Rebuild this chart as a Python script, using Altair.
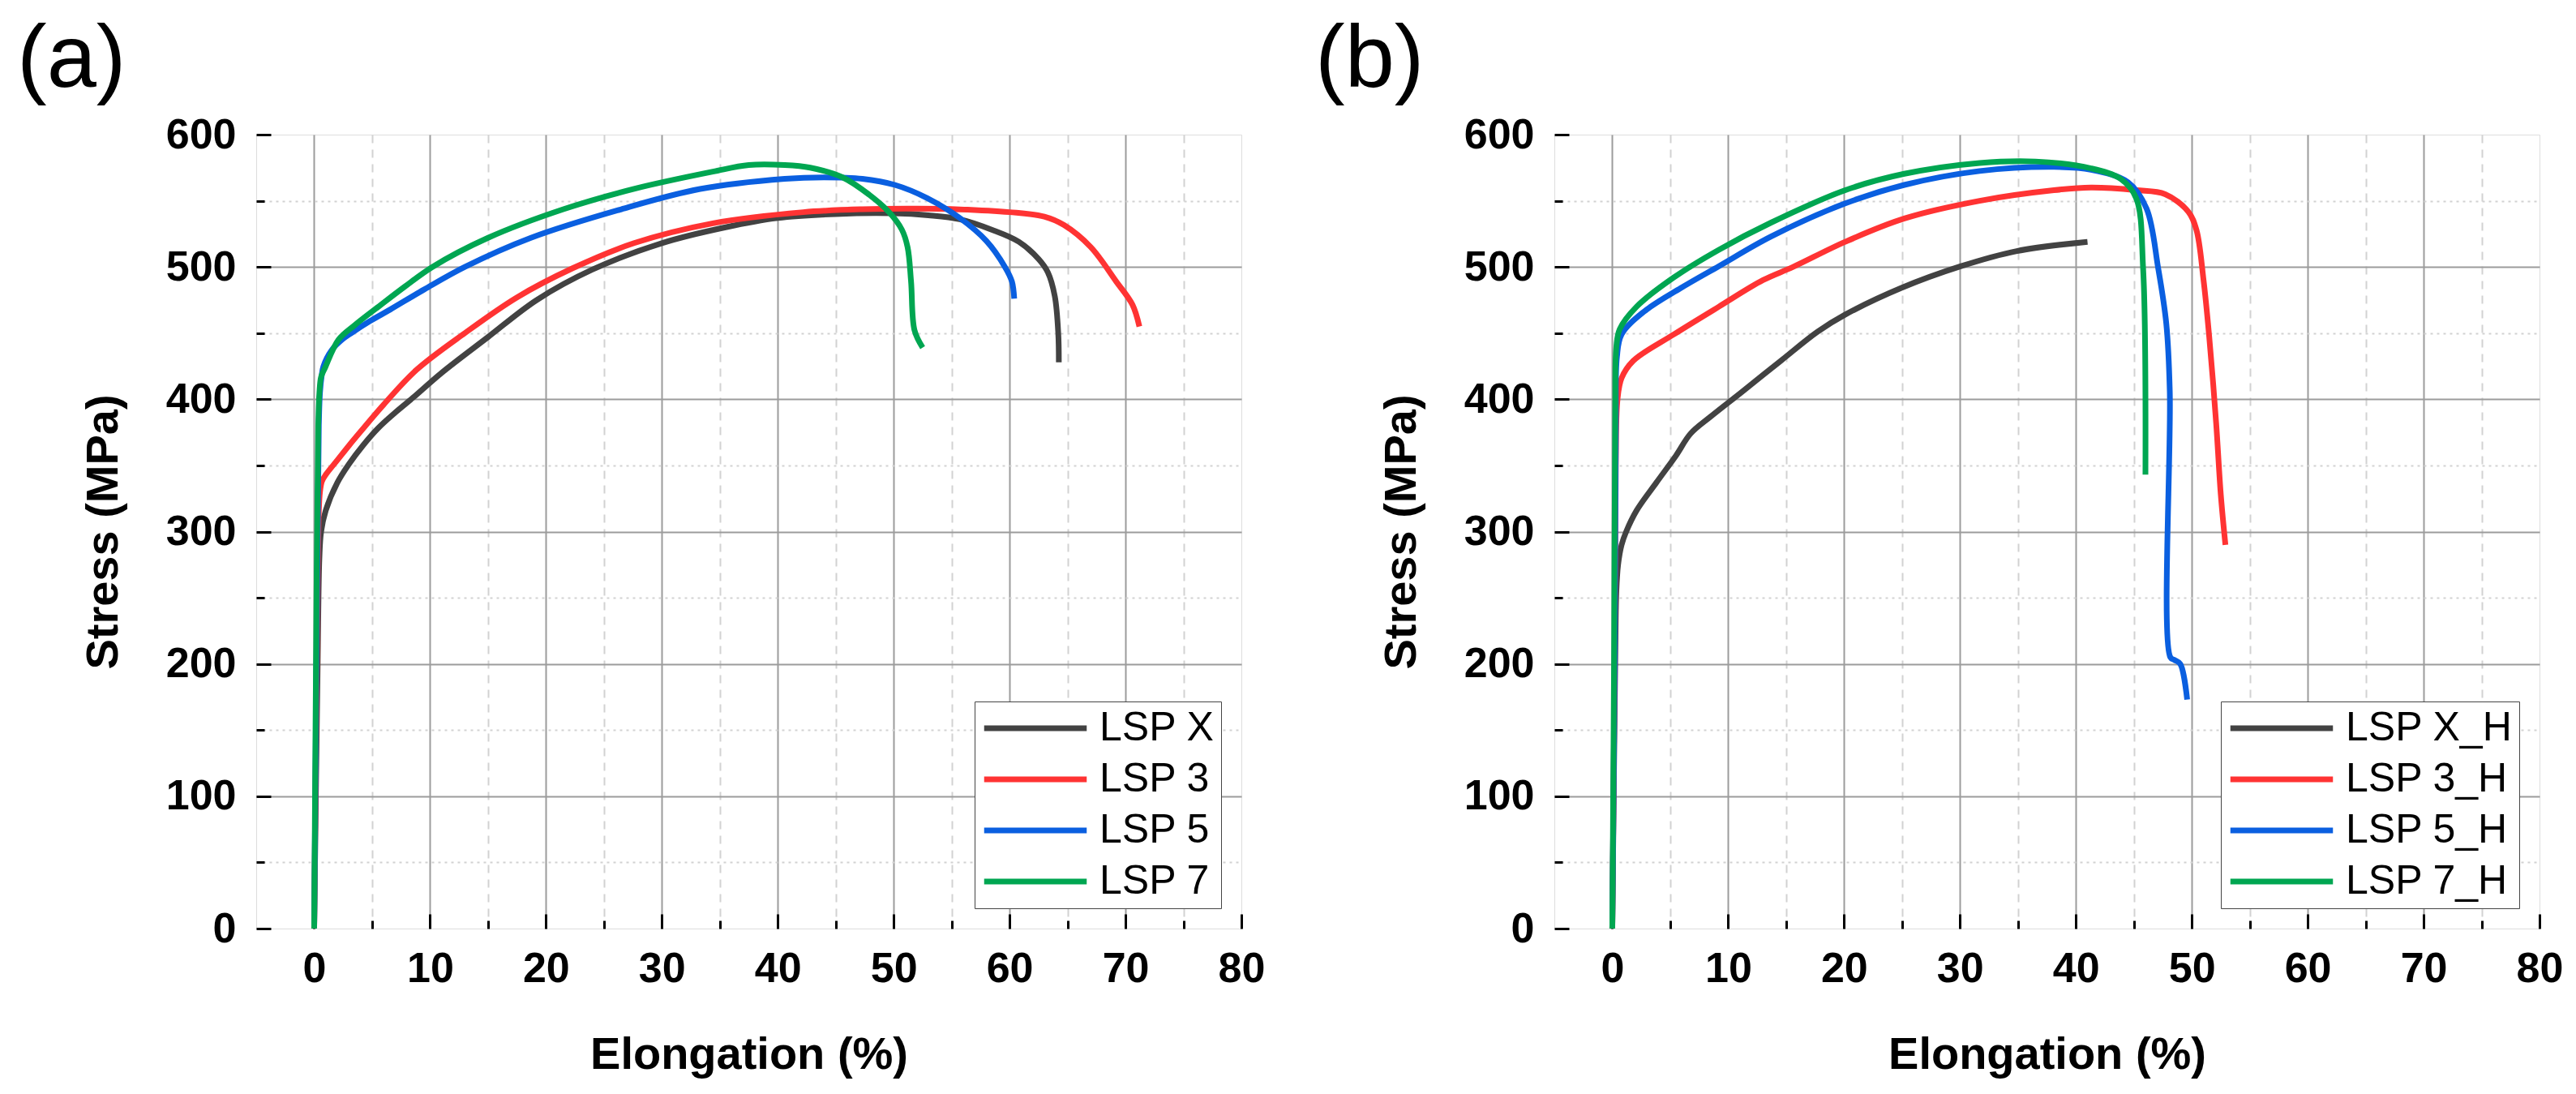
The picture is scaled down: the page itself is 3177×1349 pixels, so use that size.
import altair as alt
import pandas as pd

FONT = "Liberation Sans"

SERIES_A = ["LSP X", "LSP 3", "LSP 5", "LSP 7"]
SERIES_B = ["LSP X_H", "LSP 3_H", "LSP 5_H", "LSP 7_H"]
COLORS = ["#424242", "#ff3333", "#0a5fe0", "#00a651"]

X_TICKS = list(range(0, 81, 5))
Y_TICKS = list(range(0, 601, 50))

# ---- panel (a) ----
A_X_ELONG = [0, 0.3, 0.45, 0.6, 1.0, 2.0, 3.0, 4.2, 5.5, 7.0, 8.5, 11.0, 15.0, 19.2, 24.0, 30.0, 35.5, 40.0, 45.0, 50.0, 53.0, 55.7, 58.5, 60.8, 62.5, 63.3, 63.9, 64.2, 64.25]
A_X_STRESS = [0, 200, 280, 300, 316, 337, 351, 365, 378, 390, 401, 420, 447, 475, 498, 518, 530, 537, 540, 540.5, 539, 536, 528, 519, 506, 496, 478, 450, 428]

A_3_ELONG = [0, 0.25, 0.4, 0.5, 0.67, 1.0, 2.0, 3.0, 4.0, 6.0, 8.8, 13.0, 17.5, 22.3, 27.6, 34.4, 42.2, 47.3, 52.0, 55.7, 60.0, 63.0, 64.7, 67.0, 69.2, 70.6, 71.2]
A_3_STRESS = [0, 220, 315, 330, 338, 343, 354, 365, 375.5, 396, 422, 450, 477, 499, 518, 533, 541.4, 543.6, 544, 543.5, 541.4, 538, 531.6, 515, 489, 471.5, 455]

A_5_ELONG = [0, 0.25, 0.4, 0.5, 0.65, 0.8, 1.5, 2.4, 3.2, 4.8, 6.6, 9.5, 13.0, 18.7, 26.5, 33.3, 40.6, 44.0, 47.3, 50.1, 52.9, 55.7, 58.0, 59.6, 60.2, 60.4]
A_5_STRESS = [0, 250, 380, 405, 418, 425, 437, 445, 450, 459, 468, 483, 500, 522, 543.6, 558.9, 566.6, 567.7, 566.6, 562, 552, 537, 519.6, 500, 489, 476]

A_7_ELONG = [0, 0.2, 0.35, 0.45, 0.6, 0.95, 2.1, 3.5, 5.7, 7.8, 10.2, 15.0, 21.5, 27.6, 34.4, 37.5, 40.6, 42.8, 45.6, 47.9, 49.6, 50.7, 51.2, 51.5, 51.8, 52.5]
A_7_STRESS = [0, 250, 380, 405, 417, 424, 445, 456, 471, 485, 500, 522, 543.6, 559, 572, 577, 577, 575, 567.7, 554.5, 541.4, 528.3, 515, 489, 452, 439]

# ---- panel (b) ----
B_X_ELONG = [0, 0.25, 0.35, 0.5, 0.8, 1.2, 2.1, 3.8, 5.5, 6.75, 8.5, 11.1, 14.6, 17.7, 20.1, 24.9, 30.1, 34.9, 41.0]
B_X_STRESS = [0, 200, 255, 275, 290, 300, 316, 337, 357.5, 374, 387, 405, 429.5, 451, 464, 484, 500.6, 512, 519]

B_3_ELONG = [0, 0.2, 0.3, 0.45, 0.8, 1.8, 5.3, 9.2, 13.0, 15.6, 20.1, 25.2, 31.7, 38.1, 41.3, 45.2, 47.7, 49.7, 50.4, 51.0, 51.5, 52.1, 52.5, 52.9]
B_3_STRESS = [0, 200, 350, 400, 416, 429, 449, 470, 490, 500, 519, 536.6, 550, 558, 560, 558, 555, 541.7, 528, 491, 447.5, 382, 328, 290]

B_5_ELONG = [0, 0.2, 0.3, 0.4, 0.8, 2.7, 5.9, 9.2, 13.7, 20.1, 25.2, 31.7, 38.1, 41.3, 44.5, 46.1, 47.1, 47.8, 48.1, 48.15, 48.5, 49.0, 49.6]
B_5_STRESS = [0, 200, 380, 432, 449, 466, 484, 500.6, 523, 548, 562, 572.5, 575.6, 573.5, 564, 544, 499, 457, 406, 205, 203, 200, 173]

B_7_ELONG = [0, 0.15, 0.25, 0.35, 0.64, 2.1, 5.3, 9.2, 13.7, 20.1, 25.2, 31.7, 36.5, 41.3, 43.9, 45.2, 45.8, 46.0]
B_7_STRESS = [0, 200, 390, 440, 453, 470, 492, 513, 533.5, 558, 570.4, 578.6, 579.7, 574.5, 566.3, 552, 498.6, 343]


def build(names, elongs, stresses):
    rows = []
    for name, xs, ys in zip(names, elongs, stresses):
        for i, (x, y) in enumerate(zip(xs, ys)):
            rows.append({"series": name, "elong": x, "stress": y, "idx": i})
    return pd.DataFrame(rows)


df_a = build(SERIES_A, [A_X_ELONG, A_3_ELONG, A_5_ELONG, A_7_ELONG],
             [A_X_STRESS, A_3_STRESS, A_5_STRESS, A_7_STRESS])
df_b = build(SERIES_B, [B_X_ELONG, B_3_ELONG, B_5_ELONG, B_7_ELONG],
             [B_X_STRESS, B_3_STRESS, B_5_STRESS, B_7_STRESS])

legend_extra = {}
try:
    props = alt.Legend.resolve_references().get("properties", {})
    if "strokeWidth" in props:
        legend_extra["strokeWidth"] = 2.5
except Exception:
    pass


def panel(df, names, label):
    x_axis = alt.Axis(
        values=X_TICKS,
        title="Elongation (%)",
        labelExpr="datum.value % 10 === 0 ? datum.label : ''",
        labelFont=FONT, labelFontSize=52, labelFontWeight="bold", labelColor="black",
        labelPadding=42, labelFlush=False, labelOverlap=False,
        tickSize={"expr": "datum.value % 10 === 0 ? -18 : -10"},
        tickWidth=3, tickColor="black",
        domain=False,
        grid=True,
        gridColor={"condition": {"test": "datum.value % 10 === 0", "value": "#9c9c9c"}, "value": "#d2d2d2"},
        gridDash={"condition": {"test": "datum.value % 10 === 0", "value": []}, "value": [10, 8]},
        gridOpacity={"condition": {"test": "datum.value === 80", "value": 0}, "value": 1},
        gridWidth=2,
        titleFont=FONT, titleFontSize=56, titleFontWeight="bold", titleColor="black",
        titlePadding=45,
    )
    y_axis = alt.Axis(
        values=Y_TICKS,
        title="Stress (MPa)",
        labelExpr="datum.value % 100 === 0 ? datum.label : ''",
        labelFont=FONT, labelFontSize=52, labelFontWeight="bold", labelColor="black",
        labelPadding=43, labelFlush=False, labelOverlap=False,
        tickSize={"expr": "datum.value % 100 === 0 ? -18 : -10"},
        tickWidth=3, tickColor="black",
        domain=False,
        grid=True,
        gridColor={"condition": {"test": "datum.value % 100 === 0", "value": "#9c9c9c"}, "value": "#d2d2d2"},
        gridDash={"condition": {"test": "datum.value % 100 === 0", "value": []}, "value": [3, 5]},
        gridOpacity={"condition": {"test": "datum.value === 0 || datum.value === 600", "value": 0}, "value": 1},
        gridWidth=2,
        titleFont=FONT, titleFontSize=56, titleFontWeight="bold", titleColor="black",
        titlePadding=48,
    )
    legend = alt.Legend(
        title=None, orient="bottom-right", offset=25, padding=8,
        symbolType="stroke", symbolSize=16000, symbolStrokeWidth=7, clipHeight=50,
        labelFont=FONT, labelFontSize=50, labelColor="black", labelOffset=12, labelLimit=0,
        rowPadding=13, fillColor="white", strokeColor="#444444", **legend_extra,
    )
    lines = alt.Chart(df).mark_line(strokeWidth=7, strokeJoin="round", interpolate="catmull-rom").encode(
        x=alt.X("elong:Q", scale=alt.Scale(domain=[-5, 80], nice=False, zero=False), axis=x_axis),
        y=alt.Y("stress:Q", scale=alt.Scale(domain=[0, 600], nice=False), axis=y_axis),
        color=alt.Color("series:N", scale=alt.Scale(domain=names, range=COLORS), sort=names, legend=legend),
        order=alt.Order("idx:Q"),
    )
    return lines.properties(
        width=1215, height=979,
        title=alt.TitleParams(text=label, anchor="start", frame="group", dx=-295,
                              fontSize=110, font=FONT, fontWeight="normal", color="black", offset=10),
    )


chart = alt.hconcat(
    panel(df_a, SERIES_A, "(a)"),
    panel(df_b, SERIES_B, "(b)"),
    spacing=60,
).resolve_scale(color="independent").resolve_legend(color="independent").properties(
    padding={"left": 12, "top": 10, "right": 5, "bottom": 5},
).configure_view(stroke="black", strokeWidth=5).configure(background="white")

chart.save("out.html", embed_options={"renderer": "svg", "actions": False})
